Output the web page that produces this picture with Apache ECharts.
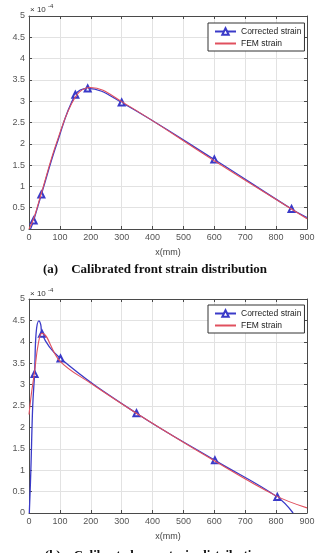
<!DOCTYPE html>
<html>
<head>
<meta charset="utf-8">
<script src="https://cdn.jsdelivr.net/npm/echarts@6/dist/echarts.min.js"></script>
<style>
  html, body { margin: 0; padding: 0; background: #fff; }
  #chart { width: 315px; height: 553px; }
</style>
</head>
<body>
<div id="chart"></div>
<script>
// values in units of 1e-4
var frontCorrX = [5, 15, 40, 90, 150, 190, 300, 600, 850, 900];
var frontCorrY = [0, 0.2, 0.81, 2.0, 3.15, 3.3, 2.97, 1.63, 0.47, 0.27];
var frontMarkX = [15, 40, 150, 190, 300, 600, 850];
var frontFemX = [0, 15, 40, 90, 150, 200, 300, 600, 900];
var frontFemY = [0, 0.24, 0.84, 2.04, 3.1, 3.32, 2.99, 1.6, 0.24];

var rearCorrX = [1, 6, 12, 18, 23, 32, 38, 42, 102, 348, 602, 804, 855];
var rearCorrY = [0, 1.0, 2.5, 3.25, 4.2, 4.49, 4.4, 4.19, 3.61, 2.33, 1.23, 0.375, 0];
var rearMarkX = [18, 42, 102, 348, 602, 804];
var rearFemX = [0, 8, 18, 30, 42, 100, 200, 350, 600, 800, 900];
var rearFemY = [2.3, 2.8, 3.3, 3.95, 4.2, 3.55, 3.03, 2.32, 1.22, 0.4, 0.12];

var xTicks = ['0', '100', '200', '300', '400', '500', '600', '700', '800', '900'];
var yTicks = ['0', '0.5', '1', '1.5', '2', '2.5', '3', '3.5', '4', '4.5', '5'];

var blue = '#3a3ac8';
var red = '#e0505e';
var axisCol = '#4a4a4a';

function pts(xs, ys, marks) {
  var out = [];
  for (var i = 0; i < xs.length; i++) {
    var p = { value: [xs[i], ys[i]] };
    if (!marks || marks.indexOf(xs[i]) < 0) p.symbol = 'none';
    out.push(p);
  }
  return out;
}

var grids = [
  { left: 29, top: 16, width: 278, height: 213, outerBoundsMode: 'none', containLabel: false },
  { left: 29, top: 299, width: 278, height: 214, outerBoundsMode: 'none', containLabel: false }
];

var xAxes = [], yAxes = [];
grids.forEach(function (g, k) {
  xAxes.push({
    gridIndex: k, type: 'value', min: 0, max: 900, interval: 100,
    name: 'x(mm)', nameLocation: 'middle', nameGap: 19,
    nameTextStyle: { color: '#444', fontSize: 9, fontFamily: 'Liberation Sans' },
    axisLine: { lineStyle: { color: axisCol, width: 1 } },
    axisTick: { inside: true, length: 3, lineStyle: { color: axisCol } },
    axisLabel: { color: '#555', fontSize: 9, margin: 4, fontFamily: 'Liberation Sans',
      formatter: function (v) { return xTicks[Math.round(v / 100)]; } },
    splitLine: { lineStyle: { color: '#e2e2e2', width: 1 } }
  });
  xAxes.push({
    gridIndex: k, type: 'value', min: 0, max: 900, interval: 100, position: 'top',
    axisLine: { show: true, onZero: false, lineStyle: { color: axisCol, width: 1 } },
    axisTick: { inside: true, length: 3, lineStyle: { color: axisCol } },
    axisLabel: { show: false }, splitLine: { show: false }
  });
  yAxes.push({
    gridIndex: k, type: 'value', min: 0, max: 5, interval: 0.5,
    name: 'Strain', nameLocation: 'middle', nameGap: 22,
    nameTextStyle: { color: '#444', fontSize: 9, fontFamily: 'Liberation Sans' },
    axisLine: { show: true, lineStyle: { color: axisCol, width: 1 } },
    axisTick: { show: true, inside: true, length: 3, lineStyle: { color: axisCol } },
    axisLabel: { color: '#555', fontSize: 9, margin: 4, fontFamily: 'Liberation Sans',
      formatter: function (v) { return yTicks[Math.round(v * 2)]; } },
    splitLine: { lineStyle: { color: '#e2e2e2', width: 1 } }
  });
  yAxes.push({
    gridIndex: k, type: 'value', min: 0, max: 5, interval: 0.5, position: 'right',
    axisLine: { show: true, onZero: false, lineStyle: { color: axisCol, width: 1 } },
    axisTick: { show: true, inside: true, length: 3, lineStyle: { color: axisCol } },
    axisLabel: { show: false }, splitLine: { show: false }
  });
});

function corrSeries(k, xs, ys, marks) {
  return {
    name: 'Corrected strain', type: 'line', xAxisIndex: k * 2, yAxisIndex: k * 2,
    data: pts(xs, ys, marks), smooth: 0.4, symbol: 'emptyTriangle', symbolSize: 6,
    lineStyle: { color: blue, width: 1.3 }, itemStyle: { color: blue, borderWidth: 1.2 },
    animation: false, z: 3
  };
}
function femSeries(k, xs, ys) {
  return {
    name: 'FEM strain', type: 'line', xAxisIndex: k * 2, yAxisIndex: k * 2,
    data: pts(xs, ys, null), smooth: 0.4, symbol: 'none',
    lineStyle: { color: red, width: 1.1 }, itemStyle: { color: red },
    animation: false, z: 4
  };
}

function legendAt(top) {
  return {
    left: 208, top: top, orient: 'vertical', itemWidth: 21, itemHeight: 8, itemGap: 3,
    padding: [4, 3, 3, 6], borderColor: '#333', borderWidth: 1, backgroundColor: '#fff',
    borderRadius: 0, textStyle: { fontSize: 8.5, color: '#222', fontFamily: 'Liberation Sans' },
    data: ['Corrected strain', { name: 'FEM strain', itemStyle: { opacity: 0 } }]
  };
}

function txt(x, y, s, font, align) {
  return { type: 'text', x: x, y: y, style: { text: s, font: font, fill: '#333',
    align: align || 'left', verticalAlign: 'middle' } };
}

var chart = echarts.init(document.getElementById('chart'));
chart.setOption({
  backgroundColor: '#fff',
  animation: false,
  grid: grids,
  xAxis: xAxes,
  yAxis: yAxes,
  legend: [legendAt(23), legendAt(305)],
  series: [
    corrSeries(0, frontCorrX, frontCorrY, frontMarkX),
    femSeries(0, frontFemX, frontFemY),
    corrSeries(1, rearCorrX, rearCorrY, rearMarkX),
    femSeries(1, rearFemX, rearFemY)
  ],
  graphic: [
    txt(30, 10, '\u00d7 10', '8px "Liberation Sans"'),
    txt(48, 6, '-4', '6px "Liberation Sans"'),
    txt(30, 294, '\u00d7 10', '8px "Liberation Sans"'),
    txt(48, 290, '-4', '6px "Liberation Sans"'),
    { type: 'text', x: 155, y: 270, style: { text: '(a)    Calibrated front strain distribution',
      font: 'bold 13px "Liberation Serif"', fill: '#111', align: 'center', verticalAlign: 'middle' } },
    { type: 'text', x: 155, y: 556, style: { text: '(b)    Calibrated rear strain distribution',
      font: 'bold 13px "Liberation Serif"', fill: '#111', align: 'center', verticalAlign: 'middle' } }
  ]
});
</script>
</body>
</html>
